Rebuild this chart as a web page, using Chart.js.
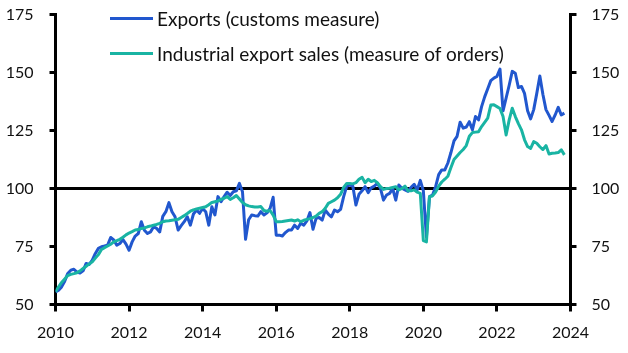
<!DOCTYPE html>
<html>
<head>
<meta charset="utf-8">
<script src="https://cdn.jsdelivr.net/npm/chart.js@4"></script>
<style>
  body { margin: 0; background: #fff; }
  #wrap { position: relative; width: 628px; height: 353px; }
  .key { position: absolute; left: 110px; height: 23px; font: 19px Lato, sans-serif; line-height: 23px; color: #111; white-space: nowrap; }
  .key .swatch { position: absolute; left: 0; top: 10px; width: 43px; height: 3px; }
  .key .txt { position: absolute; left: 47px; top: 0; }
</style>
</head>
<body>
<div id="wrap">
  <canvas id="chart" width="628" height="353"></canvas>
  <div class="key" style="top:7px"><span class="swatch" style="background:#2157CE"></span><span class="txt">Exports (customs measure)</span></div>
  <div class="key" style="top:42px"><span class="swatch" style="background:#19B4A3"></span><span class="txt">Industrial export sales (measure of orders)</span></div>
</div>
<script>
// monthly data, Jan 2010 - Nov 2023 (index, 2010 = ~55)
const startYear = 2010;

const exportsCustoms = [
  55.4, 56.2, 57.6, 60, 63.4, 64.8, 65.2, 64, 63.6, 64.5, 67.7, 67.3,          // 2010
  69.1, 72, 74.2, 74.9, 75.2, 75.6, 78.9, 77.8, 75.6, 76.3, 78, 76,            // 2011
  73.4, 77, 79.5, 80.6, 85.7, 82, 80.6, 81.3, 83.5, 82.8, 81.3, 88,            // 2012
  90, 93.9, 90, 87.8, 82.1, 84, 85.7, 87.8, 84.2, 89, 90.7, 89.3,              // 2013
  91.4, 90, 84.2, 92.1, 88.6, 96.5, 94.3, 96.5, 98.4, 97, 98.6, 99,            // 2014
  102.2, 98.6, 78.1, 86.5, 88.6, 88.3, 88.1, 90, 88.6, 89.5, 91.4, 96.2,       // 2015
  79.9, 79.9, 79.5, 81, 82.1, 82.1, 84.2, 82.8, 85, 84.2, 86, 89.6,            // 2016
  82.4, 87.1, 87.5, 86.4, 90.7, 89, 87.8, 90.7, 90, 91, 96.5, 101,             // 2017
  101.5, 101, 92.9, 97.5, 99, 100.8, 98.2, 100.3, 101, 102.2, 100.1, 95,       // 2018
  97.2, 97.9, 100, 95, 101.5, 100.1, 99.4, 98.8, 100.5, 101.8, 99.4, 103.5,    // 2019
  99, 79, 96.5, 97.2, 100.8, 106, 108, 108, 111, 115.5, 120.5, 122.5,          // 2020
  128.6, 126, 126.5, 128.8, 125.3, 131, 129.6, 135.3, 139.5, 143, 146.5, 147.6, // 2021
  148.3, 151.5, 133.5, 139, 144.5, 150.5, 149.7, 143.5, 144, 141, 133.5, 130,  // 2022
  134, 141, 148.5, 140.5, 134, 131.5, 128.9, 131.7, 135, 131.7, 132.5          // 2023
];

const exportOrders = [
  55.5, 57.6, 59.5, 61, 62.5, 63, 63.3, 63.7, 64.5, 65.5, 66.5, 67.5,          // 2010
  68.4, 70, 71.5, 73.7, 74.5, 75.2, 76, 77, 77.5, 78.1, 79, 80,                // 2011
  80.8, 81.4, 82.1, 82.3, 82.8, 83, 83.5, 83.8, 84.2, 84.5, 85, 85.7,          // 2012
  86, 86.1, 86.3, 86.5, 86.7, 87.5, 88.3, 89.2, 90.2, 90.8, 91.2, 91.5,        // 2013
  91.8, 92.1, 93, 94, 94.3, 94.6, 95.3, 95.8, 96.5, 95.3, 96, 97,              // 2014
  95.5, 94, 93, 92.5, 92.2, 92, 92, 92.2, 90.5, 90.2, 90.5, 88.5,              // 2015
  85.7, 85.7, 85.8, 86, 86.2, 86.4, 86, 86.5, 85.7, 86.3, 86.7, 87,            // 2016
  87.5, 88.1, 89.3, 90, 91.5, 93.6, 94.3, 95, 96, 97.5, 100.5, 102.2,          // 2017
  102.2, 102, 102.5, 104, 104.8, 102.5, 104, 103, 103.5, 102.5, 100.8, 99.6,   // 2018
  100, 100.1, 100.5, 100.8, 99.4, 100, 101, 99, 99, 99.4, 98.4, 97.9,          // 2019
  77.5, 77, 96.5, 96.8, 98.5, 101, 102.8, 104, 105.3, 109, 112.5, 114,         // 2020
  115.5, 116.8, 118.5, 122.5, 124.1, 124.3, 124.5, 126.7, 128.5, 130.3, 136, 136.1, // 2021
  135.3, 134.5, 131, 123.1, 129.6, 134.6, 131, 128, 125.3, 121, 118.1, 117.3,  // 2022
  120.2, 119.5, 118, 116.8, 118.5, 114.9, 115.2, 115.3, 115.5, 116.7, 114.5    // 2023
];

const xTicks = [2010, 2012, 2014, 2016, 2018, 2020, 2022, 2024];
const yTicks = [50, 75, 100, 125, 150, 175];

// x position of each month in decimal years
const months = exportsCustoms.map((_, i) => startYear + i / 12);

const tickFont = { family: 'Lato', size: 16 };

// keep the plot area fixed: no extra room for half tick labels
function fixY(width) {
    return s => { s.width = width; s.paddingTop = 0; s.paddingBottom = 0; };
}

const chart = new Chart(document.getElementById('chart'), {
    type: 'line',
    data: {
        labels: months,
        datasets: [
            {
                label: 'Industrial export sales (measure of orders)',
                data: exportOrders,
                borderColor: '#19B4A3',
                borderWidth: 3,
                pointRadius: 0,
                tension: 0,
                borderJoinStyle: 'round',
                order: 0
            },
            {
                label: 'Exports (customs measure)',
                data: exportsCustoms,
                borderColor: '#2157CE',
                borderWidth: 3,
                pointRadius: 0,
                tension: 0,
                borderJoinStyle: 'round',
                order: 1
            }
        ]
    },
    options: {
        responsive: false,
        animation: false,
        layout: { padding: { top: 14.5, left: 0, right: 0, bottom: 0 } },
        plugins: {
            legend: { display: false },
            tooltip: { enabled: false }
        },
        scales: {
            x: {
                type: 'linear',
                min: 2010,
                max: 2024,
                afterBuildTicks: s => { s.ticks = xTicks.map(v => ({ value: v })); },
                afterFit: s => { s.height = 48.5; },
                ticks: {
                    font: tickFont,
                    color: '#111',
                    padding: 12,
                    maxRotation: 0,
                    callback: v => String(v)
                },
                grid: { drawOnChartArea: false, tickLength: 7, lineWidth: 3, tickColor: '#000' },
                border: { color: '#000', width: 3 }
            },
            y: {
                position: 'left',
                min: 50,
                max: 175,
                afterBuildTicks: s => { s.ticks = yTicks.map(v => ({ value: v })); },
                afterFit: fixY(55.5),
                ticks: { font: tickFont, color: '#111', padding: 16 },
                grid: {
                    drawOnChartArea: true,
                    color: c => (c.tick && c.tick.value === 100 ? '#000' : 'rgba(0,0,0,0)'),
                    tickColor: '#000',
                    lineWidth: 3,
                    tickLength: 6
                },
                border: { color: '#000', width: 3 }
            },
            y2: {
                position: 'right',
                min: 50,
                max: 175,
                afterBuildTicks: s => { s.ticks = yTicks.map(v => ({ value: v })); },
                afterFit: fixY(57.5),
                ticks: { font: tickFont, color: '#111', padding: 15 },
                grid: { drawOnChartArea: false, tickColor: '#000', lineWidth: 3, tickLength: 6 },
                border: { color: '#000', width: 3 }
            }
        }
    }
});
</script>
</body>
</html>
